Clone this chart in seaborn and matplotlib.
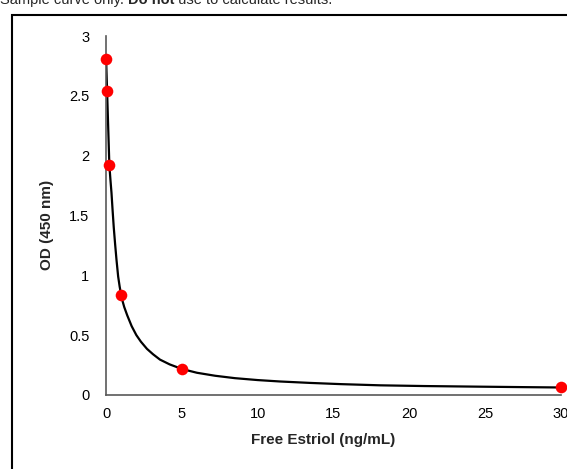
import matplotlib
matplotlib.use("Agg")
import matplotlib.pyplot as plt
from matplotlib.patches import Rectangle
from matplotlib.ticker import FuncFormatter
import pandas as pd
import seaborn as sns

# standards (ng/mL) and measured OD
conc = [0, 0.07, 0.22, 1, 5, 30]
od = [2.81, 2.54, 1.92, 0.835, 0.217, 0.065]

# fitted curve
curve_x = [0, 0.07, 0.22, 0.29, 0.36, 0.43, 0.51, 0.6, 0.69, 0.8, 0.9, 1.0,
           1.1, 1.2, 1.4, 1.69, 2.0, 2.3, 2.7, 3.1, 3.56, 4.2, 5.0, 6.0,
           7.2, 8.5, 10.0, 11.5, 13.5, 15.5, 18.1, 21.0, 24.5, 27.5, 30.0]
curve_y = [2.83, 2.54, 1.92, 1.80, 1.69, 1.55, 1.40, 1.26, 1.13, 0.99, 0.905, 0.835,
           0.78, 0.735, 0.665, 0.575, 0.50, 0.445, 0.385, 0.34, 0.295, 0.255, 0.217, 0.185,
           0.16, 0.14, 0.124, 0.112, 0.10, 0.09, 0.08, 0.074, 0.069, 0.065, 0.062]

df_pts = pd.DataFrame({"conc": conc, "od": od})
df_fit = pd.DataFrame({"conc": curve_x, "od": curve_y})

sns.set_style("white")
plt.rcParams["font.family"] = ["Liberation Sans", "DejaVu Sans"]

fig = plt.figure(figsize=(5.67, 4.69), dpi=100)
ax = fig.add_axes([0.187, 0.158, 0.802, 0.765])

sns.lineplot(data=df_fit, x="conc", y="od", color="black", linewidth=1.6, ax=ax, zorder=2)
sns.scatterplot(data=df_pts, x="conc", y="od", color="#ff0000", s=70, linewidth=0,
                ax=ax, zorder=3, clip_on=False)

ax.set_xlim(0, 30)
ax.set_ylim(0, 3)
ax.set_xticks([0, 5, 10, 15, 20, 25, 30])
ax.set_yticks([0, 0.5, 1, 1.5, 2, 2.5, 3])
ax.yaxis.set_major_formatter(FuncFormatter(lambda v, p: f"{v:g}"))
ax.tick_params(axis="both", length=0, labelsize=10.5, colors="black")
ax.tick_params(axis="y", pad=12)
ax.tick_params(axis="x", pad=9)

for side in ["top", "right"]:
    ax.spines[side].set_visible(False)
for side in ["left", "bottom"]:
    ax.spines[side].set_color("#595959")
    ax.spines[side].set_linewidth(1.2)

ax.set_xlabel("Free Estriol (ng/mL)", fontsize=11, fontweight="bold")
ax.set_ylabel("OD (450 nm)", fontsize=11, fontweight="bold")
ax.xaxis.set_label_coords(0.477, -0.125)
ax.yaxis.set_label_coords(-0.13, 0.474)
ax.xaxis.label.set_va("center")
ax.yaxis.label.set_va("center")

# frame around the chart
fig.add_artist(Rectangle((0.022, -0.1), 1.2, 0.1 + 0.969, transform=fig.transFigure,
                         fill=False, edgecolor="black", linewidth=1.5, clip_on=False))

# note above the chart (cut off at the top of the picture)
t1 = fig.text(0.0, 0.9915, "Sample curve only. ", fontsize=10.5, va="baseline", ha="left")
t2 = ax.annotate("Do not", xy=(1, 0), xycoords=t1, fontsize=10.5, fontweight="bold",
                 va="bottom", ha="left", annotation_clip=False)
t3 = ax.annotate(" use to calculate results.", xy=(1, 0), xycoords=t2, fontsize=10.5,
                 va="bottom", ha="left", annotation_clip=False)

fig.savefig("out.png", dpi=100)
